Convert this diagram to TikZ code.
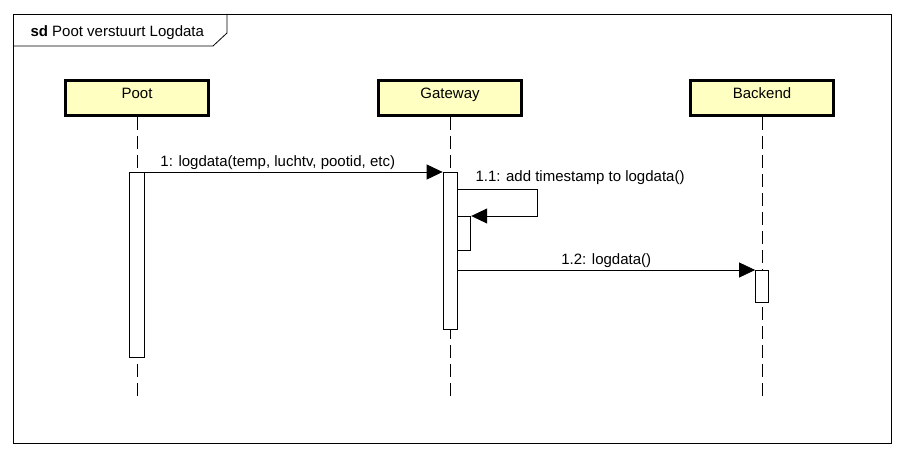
\documentclass[tikz,border=0pt]{standalone}
\usepackage{fontspec}
\setmainfont{Liberation Sans}
\usetikzlibrary{arrows.meta, positioning}
\definecolor{headyellow}{RGB}{255,255,194}

\begin{document}
\begin{tikzpicture}[
    x=1pt, y=-1pt,
    node distance=167pt,
    every node/.style={font=\fontsize{15}{18}\selectfont},
    head/.style={rectangle, draw, line width=3pt, fill=headyellow, minimum width=143pt, minimum height=35pt, inner sep=0pt, text height=6pt, text depth=4pt},
    lifeline/.style={dash pattern=on 13pt off 6pt, line width=0.8pt},
    bar/.style={rectangle, draw, line width=0.8pt, fill=white, minimum width=14pt, inner sep=0pt, anchor=north},
    msg/.style={-{Triangle[length=16pt, width=15pt]}, line width=0.8pt},
    lbl/.style={inner sep=1.5pt}
]
\fill[white] (0,0) rectangle (904,457);
\useasboundingbox (0,0) rectangle (904,457);

% Frame
\draw[line width=0.8pt] (13,14) rectangle (891,443);
\draw[line width=0.8pt] (13,46) -- (213,46) -- (227,33) -- (227,14);
\node[anchor=base west] (title) at (27,37) {\textbf{sd} Poot verstuurt Logdata};

% Lifelines
\node[head] (poot) at (137,98) {Poot};
\node[head, right=of poot] (gateway) {Gateway};
\node[head, right=166pt of gateway] (backend) {Backend};

\coordinate (pootend) at (poot.south |- 0,397);
\coordinate (gwend) at (gateway.south |- 0,397);
\coordinate (beend) at (backend.south |- 0,397);
\draw[lifeline] (poot.south) -- (pootend);
\draw[lifeline] (gateway.south) -- (gwend);
\draw[lifeline] (backend.south) -- (beend);

% Activations
\node[bar, minimum width=15pt, minimum height=185pt] (pootbar) at (poot.south |- 0,172) {};
\node[bar, minimum height=157pt] (gwbar) at (gateway.south |- 0,172) {};
\node[bar, anchor=north west, minimum width=13pt, minimum height=34pt] (nestbar) at (gwbar.east |- 0,216) {};
\node[bar, minimum width=13pt, minimum height=32pt] (bebar) at (backend.south |- 0,270) {};

% Messages
\draw[msg] (pootbar.north east) -- node[lbl, above, xshift=-16pt] {1: logdata(temp, luchtv, pootid, etc)} (gwbar.north west);
\coordinate (selfstart) at (gwbar.east |- 0,189);
\draw[msg] (selfstart) -- ++(80,0) |- (nestbar.north east);
\node[anchor=base west] (selflbl) at (472,182) {1.1: add timestamp to logdata()};
\draw[msg] (gwbar.east |- bebar.north) -- node[lbl, above] {1.2: logdata()} (bebar.north west);

\end{tikzpicture}
\end{document}
